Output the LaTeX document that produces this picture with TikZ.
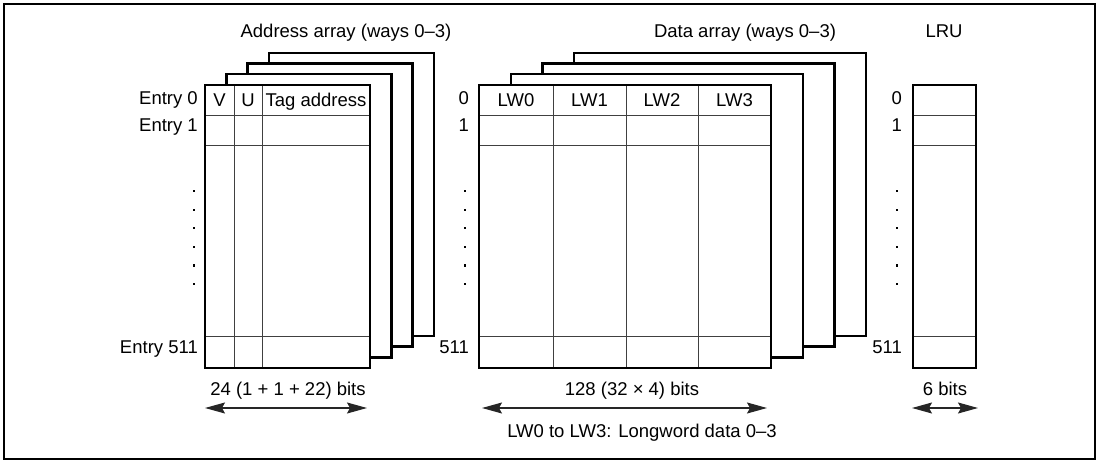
\documentclass[tikz,border=0pt]{standalone}
\usepackage{fontspec}
\setmainfont{Liberation Sans}
\usetikzlibrary{arrows.meta}

\begin{document}
\begin{tikzpicture}[x=1pt, y=-1pt, >={Stealth[length=20pt, width=11pt, inset=3pt]},
    stackbox/.style={line width=2.4pt, fill=white},
    cellline/.style={line width=0.9pt, black!75},
    lbl/.style={font=\fontsize{18.5}{22}\selectfont, inner sep=0pt},
    dimarrow/.style={<->, line width=1.3pt, black!85}]
        \useasboundingbox (0,0) rectangle (1100,462);
        % Draw outer frame
        \draw[line width=1.8pt] (4,4) rectangle (1095,459);

        % Draw address array stack (ways 3 to 0)
        \def\adx{21.3}
        \def\ady{10.7}
        \foreach \k in {3,2,1,0}
            \draw[stackbox] ({205+\k*\adx},{85-\k*\ady}) rectangle ({370+\k*\adx},{368-\k*\ady});
        \foreach \y in {115,145,336}
            \draw[cellline] (205,\y) -- (370,\y);
        \foreach \x in {234,262}
            \draw[cellline] (\x,85) -- (\x,368);
        \draw[line width=2.4pt] (205,85) rectangle (370,368);

        % Draw data array stack (ways 3 to 0)
        \def\ddx{31.7}
        \foreach \k in {3,2,1,0}
            \draw[stackbox] ({479+\k*\ddx},{85-\k*\ady}) rectangle ({771+\k*\ddx},{368-\k*\ady});
        \foreach \y in {115,145,336}
            \draw[cellline] (479,\y) -- (771,\y);
        \foreach \x in {553,626,698}
            \draw[cellline] (\x,85) -- (\x,368);
        \draw[line width=2.4pt] (479,85) rectangle (771,368);

        % Draw LRU column
        \foreach \y in {115,145,336}
            \draw[cellline] (913,\y) -- (976,\y);
        \draw[line width=2.4pt] (913,85) rectangle (976,368);

        % Titles
        \node[lbl, anchor=base] (addrtitle) at (346,38) {Address array (ways 0--3)};
        \node[lbl, anchor=base] (datatitle) at (745,38) {Data array (ways 0--3)};
        \node[lbl, anchor=base] (lrutitle) at (944,38) {LRU};

        % Field names
        \node[lbl, anchor=base] (vbit) at (219.5,107) {V};
        \node[lbl, anchor=base] (ubit) at (248,107) {U};
        \node[lbl, anchor=base] (tag) at (316,107) {Tag address};
        \node[lbl, anchor=base] (lw0) at (516,107) {LW0};
        \node[lbl, anchor=base] (lw1) at (589.5,107) {LW1};
        \node[lbl, anchor=base] (lw2) at (662,107) {LW2};
        \node[lbl, anchor=base] (lw3) at (734.5,107) {LW3};

        % Entry numbers
        \node[lbl, anchor=base east] (entry0) at (198,105) {Entry 0};
        \node[lbl, anchor=base east] (entry1) at (198,132) {Entry 1};
        \node[lbl, anchor=base east] (entry511) at (198,353) {Entry 511};
        \node[lbl, anchor=base east] (data0) at (469,105) {0};
        \node[lbl, anchor=base east] (data1) at (469,132) {1};
        \node[lbl, anchor=base east] (data511) at (469,353) {511};
        \node[lbl, anchor=base east] (lru0) at (902,105) {0};
        \node[lbl, anchor=base east] (lru1) at (902,132) {1};
        \node[lbl, anchor=base east] (lru511) at (902,353) {511};

        % Draw dots between entry 1 and entry 511
        \foreach \y in {190,208.6,227.2,245.8,264.4,283}{
            \fill (193,\y) rectangle +(2.2,2.2);
            \fill (464,\y) rectangle +(2.2,2.2);
            \fill (896,\y) rectangle +(2.2,2.2);
        }

        % Widths
        \node[lbl, anchor=base] (addrbits) at (288,395) {24 (1 + 1 + 22) bits};
        \node[lbl, anchor=base] (databits) at (632,395) {128 (32 × 4) bits};
        \node[lbl, anchor=base] (lrubits) at (945,395) {6 bits};
        \node[lbl, anchor=base] (lwnote) at (642,437) {LW0 to LW3: Longword data 0--3};
        \coordinate (aw) at (205,408);
        \coordinate (ae) at (367,408);
        \coordinate (dw) at (482,408);
        \coordinate (de) at (767,408);
        \coordinate (lw) at (912,408);
        \coordinate (le) at (978,408);
        \draw[dimarrow] (aw) -- (ae);
        \draw[dimarrow] (dw) -- (de);
        \draw[dimarrow] (lw) -- (le);
\end{tikzpicture}
\end{document}
